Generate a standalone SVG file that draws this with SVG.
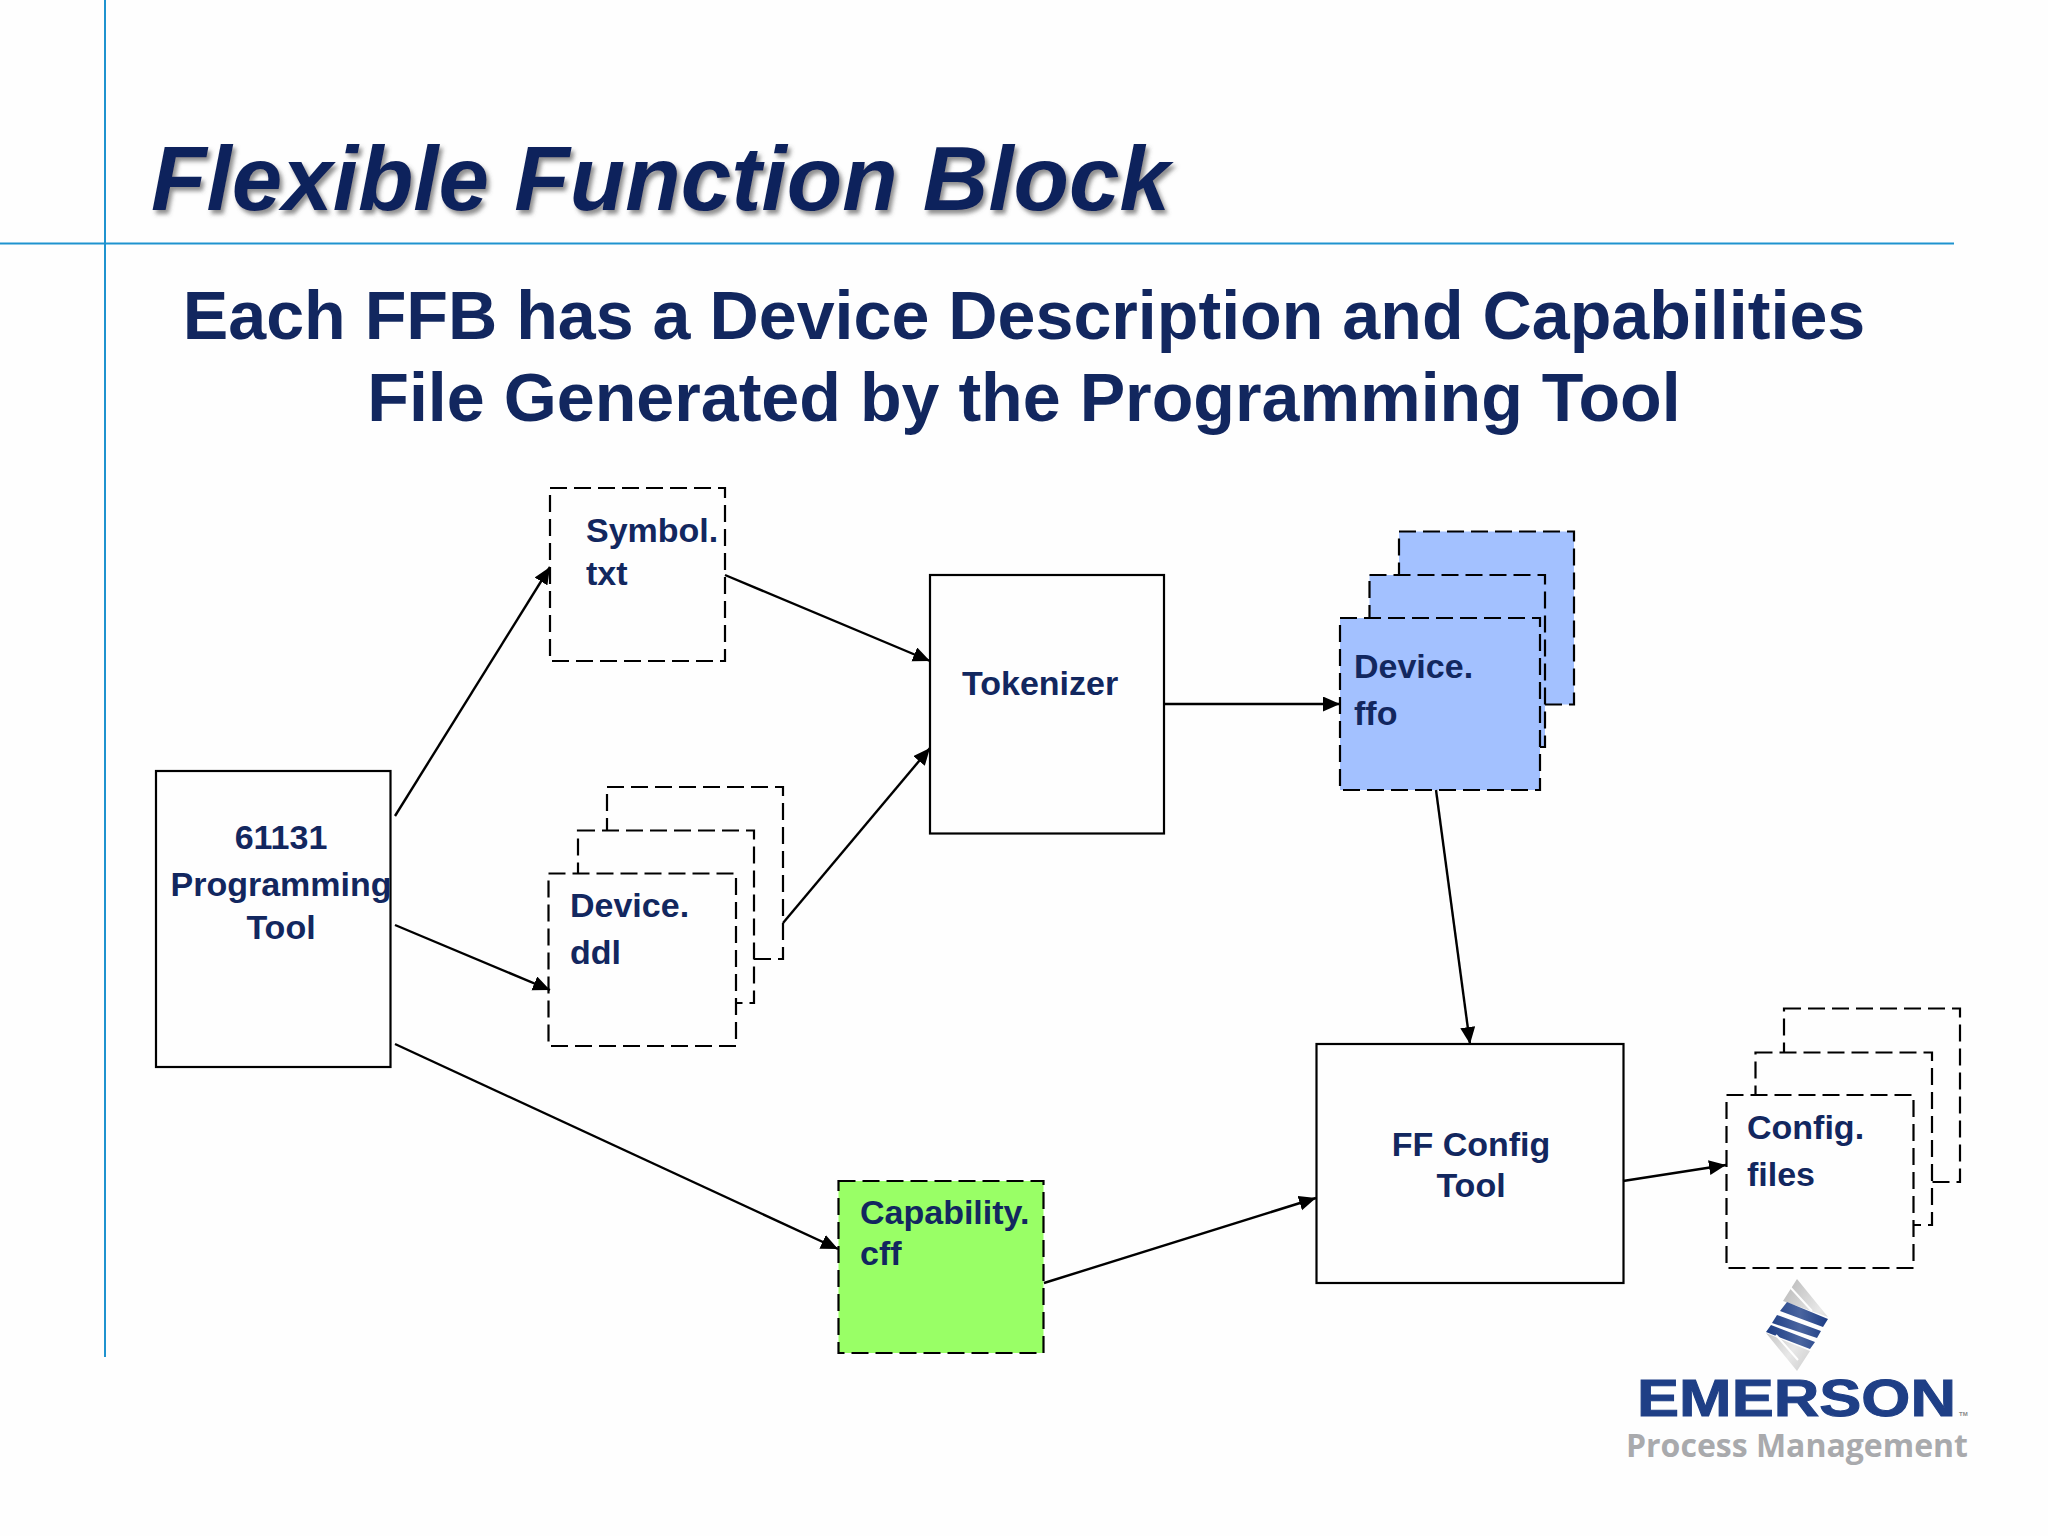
<svg xmlns="http://www.w3.org/2000/svg" width="2048" height="1536" viewBox="0 0 2048 1536">
<defs>
<style>
text{font-family:"Liberation Sans",Arial,sans-serif;font-weight:bold;fill:#12275f}
.lab{font-size:34px}
.box{fill:#fefefe;stroke:#000;stroke-width:2.2}
.dash{fill:#fefefe;stroke:#000;stroke-width:2.2;stroke-dasharray:17 7}
.blue{fill:#a3c1ff}
.green{fill:#99ff66}
.rule{stroke:#1f93cf;stroke-width:2;fill:none}
.conn{stroke:#000;stroke-width:2.4;fill:none;marker-end:url(#arrow)}
</style>
<marker id="arrow" markerUnits="userSpaceOnUse" markerWidth="19" markerHeight="16" refX="17" refY="7.500" orient="auto"><path d="M0 0L17 7.500L0 15z" fill="#000"/></marker>
<filter id="shadow" x="-5%" y="-20%" width="110%" height="140%"><feDropShadow dx="3" dy="4" stdDeviation="2" flood-color="#555" flood-opacity=".65"/></filter>
<linearGradient id="silver" x1="0" y1="0" x2="1" y2="1"><stop offset="0" stop-color="#a8a8a8"/><stop offset=".6" stop-color="#e8e8e8"/><stop offset="1" stop-color="#bdbdbd"/></linearGradient>
<linearGradient id="stripe" x1="0" y1="0" x2="1" y2="0"><stop offset="0" stop-color="#1c3c84"/><stop offset=".55" stop-color="#4a659f"/><stop offset="1" stop-color="#1c3c84"/></linearGradient>
</defs>
<rect width="2048" height="1536" fill="#fefefe"/>
<g id="rules"><path class="rule" d="M105 0V1357M0 243.5H1954"/></g>
<g id="title"><text x="151" y="210" font-size="90.800" font-style="italic" filter="url(#shadow)" style="fill:#10225c">Flexible Function Block</text></g>
<g id="subtitle" text-anchor="middle">
<text x="1024" y="339" font-size="68.200">Each FFB has a Device Description and Capabilities</text>
<text x="1024" y="421" font-size="68.200">File Generated by the Programming Tool</text>
</g>
<g id="programming-tool"><rect class="box" x="156" y="771" width="234.500" height="296"/>
<text class="lab" text-anchor="middle"><tspan x="281" y="849">61131</tspan><tspan x="281" y="896">Programming</tspan><tspan x="281" y="939">Tool</tspan></text></g>
<g id="symbol-txt"><rect class="dash" x="550" y="488" width="175" height="173"/>
<text class="lab"><tspan x="586" y="542">Symbol.</tspan><tspan x="586" y="585">txt</tspan></text></g>
<g id="device-ddl"><rect class="dash" x="607" y="787" width="176" height="172"/><rect class="dash" x="578" y="830.500" width="176" height="172.500"/><rect class="dash" x="548.500" y="873.500" width="187.500" height="172.500"/>
<text class="lab"><tspan x="570" y="917">Device.</tspan><tspan x="570" y="964">ddl</tspan></text></g>
<g id="tokenizer"><rect class="box" x="930" y="575" width="234" height="258.500"/><text class="lab" x="962" y="695">Tokenizer</text></g>
<g id="device-ffo"><rect class="dash blue" x="1399" y="531.500" width="175" height="173"/><rect class="dash blue" x="1369.500" y="575" width="175.500" height="172"/><rect class="dash blue" x="1340" y="618" width="200" height="172"/>
<text class="lab"><tspan x="1354" y="678">Device.</tspan><tspan x="1354" y="725">ffo</tspan></text></g>
<g id="capability-cff"><rect class="dash green" x="838.500" y="1181" width="205" height="172"/>
<text class="lab"><tspan x="860" y="1224">Capability.</tspan><tspan x="860" y="1265">cff</tspan></text></g>
<g id="ff-config-tool"><rect class="box" x="1316.500" y="1044" width="307" height="239"/>
<text class="lab" text-anchor="middle"><tspan x="1471" y="1156">FF Config</tspan><tspan x="1471" y="1197">Tool</tspan></text></g>
<g id="config-files"><rect class="dash" x="1784" y="1008.500" width="176" height="173.500"/><rect class="dash" x="1755.500" y="1052.500" width="176.500" height="172.500"/><rect class="dash" x="1726.500" y="1095" width="187" height="173"/>
<text class="lab"><tspan x="1747" y="1139">Config.</tspan><tspan x="1747" y="1186">files</tspan></text></g>
<g id="connectors">
<path class="conn" d="M395 816L550 567"/>
<path class="conn" d="M395 925L550 990"/>
<path class="conn" d="M395 1044L838 1249"/>
<path class="conn" d="M725 575L930 661"/>
<path class="conn" d="M783 923L930 748"/>
<path class="conn" d="M1164 704H1340"/>
<path class="conn" d="M1436 790L1470 1044"/>
<path class="conn" d="M1044 1283L1316 1198"/>
<path class="conn" d="M1623 1181L1726 1165"/>
</g>
<g id="logo">
<path d="M1797 1279L1828 1317L1783 1301zM1766 1333L1810 1351L1797 1371z" fill="url(#silver)"/>
<path d="M1787 1302L1828 1319L1823 1327L1780 1311zM1777 1315L1821 1331L1817 1338L1772 1323zM1771 1325L1815 1342L1810 1349L1766 1332z" fill="url(#stripe)"/>
<path d="M1790 1287L1812 1311M1776 1335L1798 1360" stroke="#fefefe" stroke-width="2" fill="none"/>
<text x="1637" y="1416" font-size="52" textLength="319" lengthAdjust="spacingAndGlyphs" style="fill:#1f3f86;stroke:#1f3f86;stroke-width:1">EMERSON</text>
<text x="1626" y="1457" font-size="33" textLength="342" lengthAdjust="spacingAndGlyphs" style="fill:#a9aaad;font-family:'Open Sans','Noto Sans',sans-serif">Process Management</text>
<text x="1959" y="1416" font-size="6" style="fill:#888">TM</text>
</g>
</svg>
